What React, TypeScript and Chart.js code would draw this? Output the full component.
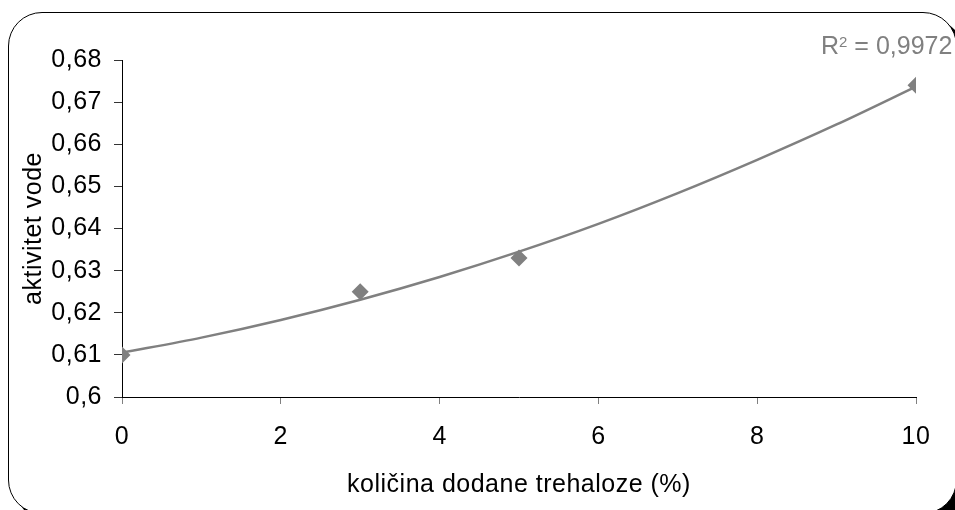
import React, { useEffect, useRef } from 'react';
import { Chart, registerables } from 'chart.js';

Chart.register(...registerables);

// ---- data ----
const concentrations = [0, 3, 5, 10];
const waterActivity = [0.61, 0.625, 0.633, 0.674];

// polynomial trendline at each integer x
const trendX = [0, 1, 2, 3, 4, 5, 6, 7, 8, 9, 10];
const trendY = [0.6105, 0.6141, 0.6183, 0.6231, 0.6285, 0.6345, 0.6411, 0.6484, 0.6563, 0.6647, 0.6737];

const yTickLabels = ['0,6', '0,61', '0,62', '0,63', '0,64', '0,65', '0,66', '0,67', '0,68'];
const xTitle = 'količina dodane trehaloze (%)';
const yTitle = 'aktivitet vode';
const r2Value = '0,9972';

const FONT = "'Liberation Sans', Arial, Helvetica, sans-serif";
const GRAY = '#808080';
const SPACING = '0.5px';

const spacingPlugin = {
  id: 'letterSpacing',
  beforeUpdate(c: any) {
    c.ctx.letterSpacing = SPACING;
  },
  beforeLayout(c: any) {
    c.ctx.letterSpacing = SPACING;
  },
  beforeDraw(c: any) {
    c.ctx.letterSpacing = SPACING;
  },
};

export default function App() {
  const canvasRef = useRef<HTMLCanvasElement | null>(null);

  useEffect(() => {
    const canvas = canvasRef.current;
    if (!canvas) return;
    const chart = new Chart(canvas, {
      type: 'scatter',
      data: {
        datasets: [
          {
            label: 'trend',
            data: trendX.map((x, i) => ({ x, y: trendY[i] })),
            showLine: true,
            borderColor: GRAY,
            borderWidth: 2.5,
            pointRadius: 0,
            tension: 0.3,
            order: 2,
          },
          {
            label: 'aw',
            data: concentrations.map((x, i) => ({ x, y: waterActivity[i] })),
            pointStyle: 'rectRot',
            pointRadius: 8.5,
            backgroundColor: GRAY,
            borderColor: GRAY,
            borderWidth: 0,
            order: 1,
          },
        ],
      },
      options: {
        animation: false,
        responsive: false,
        devicePixelRatio: 1,
        layout: { padding: { left: 0, top: 60, right: 39, bottom: 0 } },
        plugins: {
          legend: { display: false },
          tooltip: { enabled: false },
        },
        scales: {
          x: {
            type: 'linear',
            min: 0,
            max: 10,
            ticks: {
              stepSize: 2,
              color: '#000',
              font: { family: FONT, size: 25 },
              padding: 18,
            },
            grid: {
              drawOnChartArea: false,
              drawTicks: true,
              tickLength: 7,
              color: GRAY,
            },
            border: { display: true, color: '#000', width: 1 },
            title: {
              display: true,
              text: xTitle,
              color: '#000',
              font: { family: FONT, size: 25 },
              padding: { top: 0, bottom: 10 },
            },
            afterFit(s: any) {
              s.height = 113;
            },
          },
          y: {
            type: 'linear',
            min: 0.6,
            max: 0.68,
            ticks: {
              stepSize: 0.01,
              color: '#000',
              font: { family: FONT, size: 25 },
              padding: 12,
              callback: (v: any) => {
                const idx = Math.round((Number(v) - 0.6) * 100);
                return yTickLabels[idx] ?? '';
              },
            },
            grid: {
              drawOnChartArea: false,
              drawTicks: true,
              tickLength: 8,
              color: '#333',
            },
            border: { display: true, color: '#000', width: 1 },
            title: {
              display: true,
              text: yTitle,
              color: '#000',
              font: { family: FONT, size: 25 },
              padding: { top: 19, bottom: 0 },
            },
            afterFit(s: any) {
              s.width = 122;
            },
          },
        },
      },
      plugins: [spacingPlugin],
    } as any);
    return () => chart.destroy();
  }, []);

  return (
    <div
      style={{
        position: 'fixed',
        left: 0,
        top: 0,
        width: 955,
        height: 510,
        overflow: 'hidden',
        background: '#fff',
      }}
    >
      <div
        style={{
          position: 'absolute',
          left: 8,
          top: 12,
          width: 949,
          height: 502,
          border: '1.5px solid #000',
          borderRadius: 34,
          boxShadow: '8px 8px 0 0 #000',
          background: '#fff',
          boxSizing: 'border-box',
        }}
      />
      <canvas
        ref={canvasRef}
        width={955}
        height={510}
        style={{ position: 'absolute', left: 0, top: 0, width: 955, height: 510, display: 'block' }}
      />
      <div
        style={{
          position: 'absolute',
          left: 821,
          top: 33,
          fontFamily: FONT,
          fontSize: 25,
          lineHeight: 1,
          color: GRAY,
          whiteSpace: 'nowrap',
        }}
      >
        R<span style={{ fontSize: 15, verticalAlign: 'top', position: 'relative', top: 1 }}>2</span> = {r2Value}
      </div>
    </div>
  );
}
